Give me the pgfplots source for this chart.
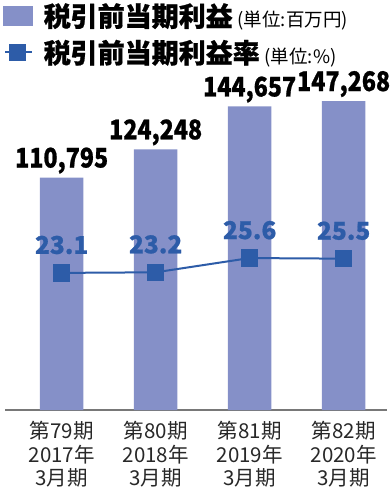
\documentclass[border=0pt]{standalone}
\usepackage{fontspec}
\setmainfont{Noto Sans CJK JP}[BoldFeatures={FakeBold=0.8}]
\newfontfamily\condfont{Noto Sans CJK JP}[FakeStretch=0.86, BoldFeatures={FakeBold=0.8}]
\usepackage{pgfplots}
\pgfplotsset{compat=1.18}
\definecolor{barcol}{RGB}{133,144,200}
\definecolor{linecol}{RGB}{45,92,168}
\definecolor{axcol}{RGB}{120,120,120}
\definecolor{tickcol}{RGB}{40,40,40}
\begin{document}
\begin{tikzpicture}
\path[use as bounding box] (0,0) rectangle (390bp,487bp);
\begin{axis}[
  at={(5bp,77bp)}, anchor=south west,
  scale only axis, width=382bp, height=345bp,
  xmin=-0.603, xmax=3.461, ymin=0, ymax=164430,
  axis x line=bottom, axis y line=none,
  x axis line style={-, draw=axcol, line width=1.3bp},
  xtick={0,1,2,3},
  xticklabels={{第79期\\2017年\\3月期},{第80期\\2018年\\3月期},{第81期\\2019年\\3月期},{第82期\\2020年\\3月期}},
  xticklabel style={align=center, font=\fontsize{20.5bp}{23.5bp}\selectfont, text=tickcol, inner sep=0pt, yshift=-11bp},
  major tick length=0pt, ytick=\empty,
  clip=false,
  /pgf/number format/assume math mode=true,
]
\addplot[ybar, bar width=43.5bp, fill=barcol, draw=none,
  nodes near coords={\pgfmathprintnumber[fixed,1000 sep={,},assume math mode=true]{\pgfplotspointmeta}},
  every node near coord/.append style={anchor=base, inner sep=0pt, yshift=10bp, font=\condfont\fontsize{27bp}{30bp}\selectfont\bfseries, text=black}]
  coordinates {(0,110795) (1,124248) (2,144657) (3,147268)};
\end{axis}
\begin{axis}[
  at={(5bp,77bp)}, anchor=south west,
  scale only axis, width=382bp, height=345bp,
  xmin=-0.603, xmax=3.461, ymin=0, ymax=58.13,
  axis lines=none, clip=false,
  /pgf/number format/assume math mode=true,
  legend style={draw=none, fill=none, inner sep=0pt, outer sep=0pt,
    at={(axis description cs:-0.0045,1.179)}, anchor=north west,
    row sep=12bp,
    /tikz/every odd column/.append style={column sep=10.3bp},
    nodes={inner sep=0pt, text=black}},
  legend cell align=left,
]
\addlegendimage{legend image code/.code={\fill[barcol] (0bp,-9.5bp) rectangle (28.4bp,9.5bp);}}
\addlegendentry{{\fontsize{27bp}{30bp}\selectfont\bfseries 税引前当期利益}\hspace{5bp}{\fontsize{18.5bp}{20bp}\selectfont (単位:百万円)}}
\addplot[linecol, line width=2bp, mark=square*, mark size=7.8bp, mark options={fill=linecol, draw=none},
  legend image code/.code={\draw[linecol, line width=2.5bp] (1.7bp,0)--(28.7bp,0); \fill[linecol] (6.7bp,-7.5bp) rectangle (21.7bp,7.5bp);},
  nodes near coords={\pgfmathprintnumber[fixed,fixed zerofill,precision=1,assume math mode=true]{\pgfplotspointmeta}},
  every node near coord/.append style={anchor=base, inner sep=0pt, yshift=19bp, font=\fontsize{24.5bp}{27bp}\selectfont\bfseries, text=linecol}]
  coordinates {(0,23.1) (1,23.2) (2,25.6) (3,25.5)};
\addlegendentry{{\fontsize{27bp}{30bp}\selectfont\bfseries 税引前当期利益率}\hspace{5bp}{\fontsize{18.5bp}{20bp}\selectfont (単位:\%)}}
\end{axis}
\end{tikzpicture}
\end{document}
